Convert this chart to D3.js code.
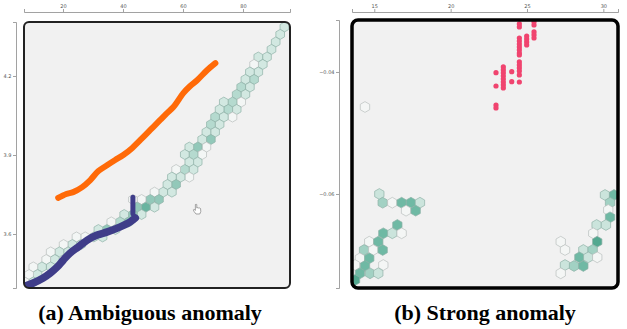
<!DOCTYPE html>
<html>
<head>
<meta charset="utf-8">
<script src="https://cdn.jsdelivr.net/npm/d3@7"></script>
<style>
  body { margin: 0; background: #fff; }
  svg { display: block; }
  .tick text { font-family: 'DejaVu Sans', sans-serif; font-size: 5px; fill: #555; }
  .caption { font-family: 'Liberation Serif', 'Times New Roman', serif; font-weight: bold; font-size: 22px; fill: #000; }
</style>
</head>
<body>
<svg id="chart" width="627" height="329"></svg>
<script>
// ---------- (a) Ambiguous anomaly ----------
const ticksAx = [20, 40, 60, 80]
const ticksAy = [3.6, 3.9, 4.2]

// [x, y, count] hexbin cells along the diagonal band
const cellsA = [
  [93.8, 4.386, 2],
  [92.4, 4.358, 2],
  [90.9, 4.329, 2],
  [89.5, 4.301, 2],
  [88.0, 4.272, 2], [85.1, 4.272, 2],
  [86.6, 4.244, 2], [83.7, 4.244, 1],
  [85.1, 4.215, 2], [82.3, 4.215, 2],
  [83.7, 4.187, 3], [80.8, 4.187, 2],
  [82.3, 4.158, 2], [79.4, 4.158, 3],
  [80.8, 4.130, 2], [77.9, 4.130, 3],
  [79.4, 4.101, 1], [76.5, 4.101, 3], [73.6, 4.101, 2],
  [77.9, 4.073, 2], [75.1, 4.073, 3], [72.2, 4.073, 2],
  [76.5, 4.044, 1], [73.6, 4.044, 2], [70.7, 4.044, 3],
  [72.2, 4.016, 2], [69.3, 4.016, 3],
  [70.7, 3.987, 2], [67.8, 3.987, 2],
  [69.3, 3.959, 4], [66.4, 3.959, 2],
  [67.8, 3.930, 1], [64.9, 3.930, 4], [62.1, 3.930, 2],
  [66.4, 3.902, 1], [63.5, 3.902, 3], [60.6, 3.902, 2],
  [64.9, 3.873, 2], [62.1, 3.873, 2],
  [63.5, 3.845, 2], [60.6, 3.845, 3], [57.7, 3.845, 1],
  [62.1, 3.816, 1], [59.2, 3.816, 2], [56.3, 3.816, 2],
  [57.7, 3.788, 4], [54.8, 3.788, 2],
  [56.3, 3.759, 2], [53.4, 3.759, 2], [50.5, 3.759, 1],
  [52.0, 3.731, 4], [49.1, 3.731, 4], [46.2, 3.731, 1], [43.3, 3.731, 1],
  [50.5, 3.702, 2], [47.6, 3.702, 5], [44.7, 3.702, 4],
  [46.2, 3.674, 2], [43.3, 3.674, 4], [40.4, 3.674, 2],
  [41.9, 3.646, 4], [39.0, 3.646, 3], [36.1, 3.646, 1],
  [37.5, 3.617, 2], [34.6, 3.617, 4], [31.8, 3.617, 2],
  [33.2, 3.589, 2], [30.3, 3.589, 2], [27.4, 3.589, 1], [24.5, 3.589, 1],
  [26.0, 3.560, 2], [23.1, 3.560, 2], [20.2, 3.560, 1],
  [21.7, 3.532, 2], [18.8, 3.532, 2], [15.9, 3.532, 1],
  [17.3, 3.503, 2], [14.4, 3.503, 1],
  [15.9, 3.475, 2], [13.0, 3.475, 2], [10.1, 3.475, 1],
  [11.5, 3.446, 2], [8.7, 3.446, 1],
  [10.1, 3.418, 2], [7.2, 3.418, 1]
]

const orangeA = [
  [18.4, 3.737], [21.1, 3.752], [23.4, 3.759], [26.4, 3.778], [29.1, 3.805],
  [31.8, 3.839], [34.8, 3.862], [37.4, 3.881], [40.1, 3.900], [43.1, 3.927],
  [45.8, 3.957], [49.1, 3.995], [52.4, 4.033], [54.4, 4.056], [56.8, 4.082],
  [60.1, 4.135], [62.4, 4.162], [64.8, 4.185], [68.1, 4.223], [70.8, 4.249]
]
const navyA = [
  [7.4, 3.402], [10.1, 3.414], [13.4, 3.433], [15.8, 3.452], [18.1, 3.475],
  [20.1, 3.501], [22.4, 3.528], [25.1, 3.551], [28.1, 3.577], [31.4, 3.596],
  [34.8, 3.608], [39.1, 3.627], [42.4, 3.646], [44.1, 3.661]
]
const navyJumpA = [[43.3, 3.677], [43.3, 3.740]]
const pinkA = [[7.0, 3.400]]
const cursorA = [63.4, 3.714]

// ---------- (b) Strong anomaly ----------
const ticksBx = [15, 20, 25, 30]
const ticksBy = [-0.06, -0.04]

const cellsB = [
  [14.39, -0.04574, 1],
  [15.33, -0.06000, 2],
  [15.55, -0.06143, 3], [16.18, -0.06143, 1], [16.79, -0.06143, 4], [17.40, -0.06143, 4], [17.99, -0.06143, 2],
  [17.08, -0.06274, 1], [17.71, -0.06274, 4],
  [16.51, -0.06508, 4],
  [15.59, -0.06644, 4], [16.18, -0.06644, 2], [16.79, -0.06644, 1],
  [14.67, -0.06782, 1], [15.26, -0.06782, 4],
  [14.33, -0.06918, 3], [14.93, -0.06918, 1], [15.55, -0.06918, 4],
  [14.06, -0.07054, 1], [14.67, -0.07054, 4],
  [13.74, -0.07164, 1], [14.39, -0.07180, 4], [15.59, -0.07164, 1],
  [14.06, -0.07300, 4], [14.72, -0.07300, 3], [15.26, -0.07300, 2],
  [13.74, -0.07410, 5],
  [30.11, -0.06016, 2], [30.70, -0.06016, 4],
  [30.44, -0.06143, 3],
  [30.32, -0.06262, 1],
  [30.44, -0.06382, 4],
  [29.56, -0.06508, 2], [30.17, -0.06508, 2],
  [29.34, -0.06644, 1],
  [29.60, -0.06782, 5], [27.21, -0.06782, 1],
  [27.49, -0.06918, 1], [28.69, -0.06918, 2], [29.30, -0.06918, 3],
  [28.43, -0.07038, 4], [29.01, -0.07038, 2], [29.60, -0.07038, 1],
  [27.49, -0.07164, 2], [28.08, -0.07180, 3], [28.69, -0.07180, 4],
  [27.21, -0.07300, 1]
]

const pinkB = [
  [24.50, -0.03213], [24.50, -0.03262], [24.50, -0.03443], [24.50, -0.03492],
  [24.50, -0.03541], [24.50, -0.03590], [24.50, -0.03639], [24.50, -0.03689],
  [24.50, -0.03721], [24.50, -0.03836], [24.50, -0.03885], [24.50, -0.03934],
  [24.50, -0.03984], [24.50, -0.04049], [24.50, -0.04164],
  [24.98, -0.03410], [24.98, -0.03459], [24.98, -0.03508], [24.98, -0.03557],
  [25.46, -0.03180], [25.46, -0.03230], [25.46, -0.03344], [25.46, -0.03393], [25.46, -0.03443],
  [23.45, -0.03918], [23.45, -0.03967], [23.45, -0.04016], [23.45, -0.04066],
  [23.45, -0.04115], [23.45, -0.04164], [23.45, -0.04213], [23.45, -0.04262],
  [22.97, -0.04011], [22.97, -0.04230], [22.97, -0.04541], [22.97, -0.04590],
  [24.00, -0.03995], [24.00, -0.04159]
]

const svg = d3.select('#chart')

function hexCorners(r) {
  return d3.range(6).map(i => {
    let a = i * Math.PI / 3
    return [Math.sin(a) * r, -Math.cos(a) * r]
  })
}
const closedLine = d3.line().curve(d3.curveLinearClosed)

function drawAxes(g, x, y, top, left, fmtX, fmtY, tx, ty) {
  let ax = g.append('g')
    .attr('transform', 'translate(0,' + top + ')')
    .call(d3.axisTop(x).tickValues(tx).tickFormat(fmtX).tickSize(3).tickPadding(1))
  let ay = g.append('g')
    .attr('transform', 'translate(' + left + ',0)')
    .call(d3.axisLeft(y).tickValues(ty).tickFormat(fmtY).tickSize(3).tickPadding(1.5))
  ;[ax, ay].forEach(a => {
    a.select('.domain').attr('stroke', '#8a8a8a').attr('stroke-width', 0.8)
    a.selectAll('.tick line').attr('stroke', '#8a8a8a').attr('stroke-width', 0.8)
  })
}

function drawPanel(cfg) {
  let g = svg.append('g')
  let [x0, x1] = cfg.x.range()
  let [y1, y0] = cfg.y.range()
  let w = x1 - x0, h = y1 - y0

  g.append('clipPath').attr('id', cfg.id)
    .append('rect').attr('x', x0).attr('y', y0).attr('width', w).attr('height', h).attr('rx', cfg.rx)

  g.append('rect')
    .attr('x', x0).attr('y', y0).attr('width', w).attr('height', h).attr('rx', cfg.rx)
    .attr('fill', '#f1f1f1')

  let inner = g.append('g').attr('clip-path', 'url(#' + cfg.id + ')')
  let corners = hexCorners(cfg.radius)

  inner.selectAll('path.hex')
    .data(cfg.cells)
    .join('path')
    .attr('class', 'hex')
    .attr('d', closedLine(corners))
    .attr('transform', d => 'translate(' + cfg.x(d[0]) + ',' + cfg.y(d[1]) + ')')
    .attr('fill', d => cfg.color(d[2]))
    .attr('stroke', d => d[2] === 1 ? '#b9bfbd' : '#8fb1a7')
    .attr('stroke-width', 0.7)

  let line = d3.line().x(d => cfg.x(d[0])).y(d => cfg.y(d[1])).curve(d3.curveCatmullRom)
  ;(cfg.trails || []).forEach(t => {
    inner.append('path')
      .attr('d', line(t.data))
      .attr('fill', 'none')
      .attr('stroke', t.color)
      .attr('stroke-width', t.width)
      .attr('stroke-linecap', 'round')
      .attr('stroke-linejoin', 'round')
  })

  ;(cfg.dots || []).forEach(s => {
    inner.append('g').selectAll('circle')
      .data(s.data)
      .join('circle')
      .attr('cx', d => cfg.x(d[0]))
      .attr('cy', d => cfg.y(d[1]))
      .attr('r', s.r)
      .attr('fill', s.color)
  })

  if (cfg.cursor) {
    inner.append('path')
      .attr('transform', 'translate(' + cfg.x(cfg.cursor[0]) + ',' + cfg.y(cfg.cursor[1]) + ')')
      .attr('d', 'M2.2,0.5 Q3,0 3.6,0.6 L3.6,4 L4.6,3.7 L5.6,4.1 L6.6,4 L7.4,4.6 L7.6,7.6 L6.6,10 L2.8,10 L0.8,7.4 L0.2,5.8 Q0.6,5 1.4,5.6 L2.2,6.4 Z')
      .attr('fill', '#fff')
      .attr('stroke', '#6a6a6a')
      .attr('stroke-width', 0.6)
  }

  g.append('rect')
    .attr('x', x0).attr('y', y0).attr('width', w).attr('height', h).attr('rx', cfg.rx)
    .attr('fill', 'none')
    .attr('stroke', cfg.frameColor)
    .attr('stroke-width', cfg.frameWidth)

  drawAxes(g, cfg.x, cfg.y, 12, cfg.axisX, cfg.fmtX, cfg.fmtY, cfg.ticksX, cfg.ticksY)

  svg.append('text')
    .attr('class', 'caption')
    .attr('x', cfg.captionX)
    .attr('y', 320)
    .attr('text-anchor', 'middle')
    .text(cfg.caption)
}

drawPanel({
  id: 'clipA',
  x: d3.scaleLinear().domain([7, 95.67]).range([24, 290]),
  y: d3.scaleLinear().domain([3.395, 4.405]).range([288, 22]),
  rx: 5, radius: 5,
  cells: cellsA,
  color: d3.scaleOrdinal().domain([1, 2, 3, 4, 5])
    .range(['#f3f6f5', '#d2e8e1', '#b5dacf', '#92c8b9', '#6ab4a0']),
  trails: [
    { data: orangeA, color: '#ff6a08', width: 6 },
    { data: pinkA.concat([[7.3, 3.401]]), color: '#f0446f', width: 5 },
    { data: navyA, color: '#3f3d89', width: 7.5 },
    { data: navyJumpA, color: '#3f3d89', width: 5 }
  ],
  cursor: cursorA,
  frameColor: '#222', frameWidth: 2,
  axisX: 16,
  ticksX: ticksAx, ticksY: ticksAy,
  fmtX: d3.format('d'), fmtY: d3.format('.1f'),
  captionX: 150,
  caption: '(a) Ambiguous anomaly'
})

drawPanel({
  id: 'clipB',
  x: d3.scaleLinear().domain([13.54, 30.96]).range([352, 618]),
  y: d3.scaleLinear().domain([-0.07541, -0.03148]).range([288, 20]),
  rx: 6, radius: 5.4,
  cells: cellsB,
  color: d3.scaleOrdinal().domain([1, 2, 3, 4, 5])
    .range(['#f4f6f5', '#cbe4dc', '#a2d1c3', '#6fb9a4', '#53a890']),
  dots: [{ data: pinkB, color: '#f0446f', r: 2.6 }],
  frameColor: '#000', frameWidth: 3.5,
  axisX: 339,
  ticksX: ticksBx, ticksY: ticksBy,
  fmtX: d3.format('d'), fmtY: d3.format('.2f'),
  captionX: 485,
  caption: '(b) Strong anomaly'
})
</script>
</body>
</html>
